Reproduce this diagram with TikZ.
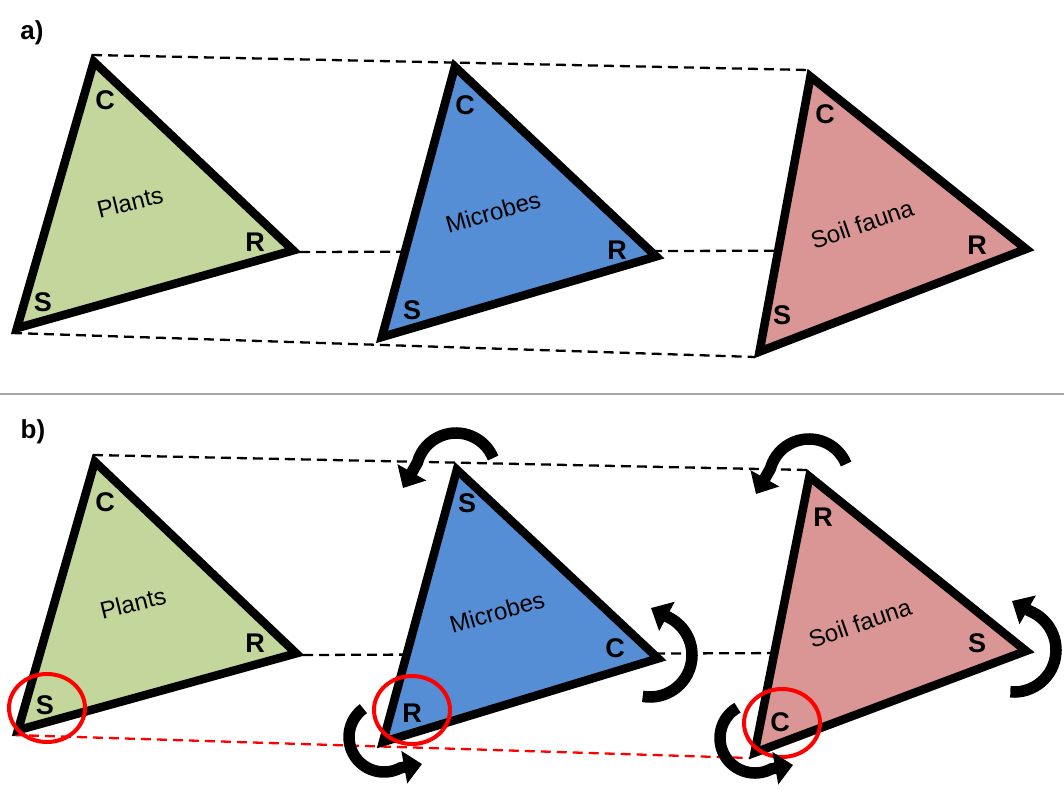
\documentclass[tikz,border=0pt]{standalone}
\usepackage{fontspec}
\setmainfont{Liberation Sans}
\usetikzlibrary{arrows.meta,calc}
\definecolor{plantg}{HTML}{C3D69B}
\definecolor{microb}{HTML}{558ED5}
\definecolor{soilp}{HTML}{D99694}
\definecolor{sepgray}{HTML}{A6A6A6}
\tikzset{
  tri/.style={draw=black,line width=8.5pt,line join=miter},
  vlab/.style={font=\bfseries\fontsize{27}{27}\selectfont,inner sep=0pt},
  tname/.style={font=\fontsize{24}{24}\selectfont,inner sep=0pt},
  panel/.style={font=\bfseries\fontsize{26}{26}\selectfont,inner sep=0pt},
  guide/.style={draw=black,line width=2.3pt,dash pattern=on 10pt off 6pt},
  redguide/.style={guide,draw=red},
  hl/.style={draw=red,line width=4pt},
  rot/.style={draw=black,line width=11.5pt,-{Triangle[length=18pt,width=32pt]}}
}
\newcommand{\tridraw}[4]{%
  \coordinate (#1m) at (barycentric cs:#1A=1,#1B=1,#1C=1);
  \draw[tri,fill=#4] ($(#1A)!7pt!(#1m)$) -- ($(#1B)!7pt!(#1m)$) -- ($(#1C)!7pt!(#1m)$) -- cycle;}
\begin{document}
\begin{tikzpicture}[x=1pt,y=-1pt]
\useasboundingbox (0,0) rectangle (1064,794);
% ---------- panel a ----------
\node[panel] (pa) at (32,33) {a)};
% vertices: A = top, B = right, C = bottom-left
\coordinate (aPA) at (92,55);   \coordinate (aPB) at (300,252);  \coordinate (aPC) at (12,333);
\coordinate (aMA) at (453,60);  \coordinate (aMB) at (663,258);  \coordinate (aMC) at (377,342);
\coordinate (aSA) at (808,70);  \coordinate (aSB) at (1033,250); \coordinate (aSC) at (755,357);
\draw[guide] (aPA) -- (aSA);
\draw[guide] (aPB) -- (aSB);
\draw[guide] (aPC) -- (aSC);
\tridraw{aP}{}{}{plantg}
\tridraw{aM}{}{}{microb}
\tridraw{aS}{}{}{soilp}
\node[vlab] (aPc) at (105,100) {C};
\node[vlab] (aPr) at (255,242) {R};
\node[vlab] (aPs) at (43,302) {S};
\node[tname,rotate=14] (aPn) at (130,202) {Plants};
\node[vlab] (aMc) at (465,105) {C};
\node[vlab] (aMr) at (617,250) {R};
\node[vlab] (aMs) at (412,310) {S};
\node[tname,rotate=16] (aMn) at (493,212) {Microbes};
\node[vlab] (aSc) at (825,114) {C};
\node[vlab] (aSr) at (977,245) {R};
\node[vlab] (aSs) at (782,315) {S};
\node[tname,rotate=19] (aSn) at (862,224) {Soil fauna};
% separator
\coordinate (sepL) at (0,394); \coordinate (sepR) at (1064,394);
\draw[sepgray,line width=2.2pt] (sepL) -- (sepR);
% ---------- panel b ----------
\node[panel] (pb) at (33,432) {b)};
\coordinate (bPA) at (93,455);  \coordinate (bPB) at (303,655);  \coordinate (bPC) at (13,735);
\coordinate (bMA) at (455,463); \coordinate (bMB) at (665,660);  \coordinate (bMC) at (378,747);
\coordinate (bSA) at (807,470); \coordinate (bSB) at (1033,652); \coordinate (bSC) at (750,758);
\draw[guide] (bPA) -- (bSA);
\draw[guide] (bPB) -- (bSB);
\draw[redguide] (bPC) -- (bSC);
\tridraw{bP}{}{}{plantg}
\tridraw{bM}{}{}{microb}
\tridraw{bS}{}{}{soilp}
\node[vlab] (bPc) at (105,502) {C};
\node[vlab] (bPr) at (255,643) {R};
\node[vlab] (bPs) at (45,705) {S};
\node[tname,rotate=14] (bPn) at (133,603) {Plants};
\node[vlab] (bMs) at (467,503) {S};
\node[vlab] (bMc) at (615,648) {C};
\node[vlab] (bMr) at (412,713) {R};
\node[tname,rotate=16] (bMn) at (497,612) {Microbes};
\node[vlab] (bSr) at (823,517) {R};
\node[vlab] (bSs) at (977,643) {S};
\node[vlab] (bSc) at (780,722) {C};
\node[tname,rotate=19] (bSn) at (860,623) {Soil fauna};
% red highlight circles
\draw[hl] (47,708) ellipse[x radius=38,y radius=34];
\draw[hl] (412,710) ellipse[x radius=38,y radius=34];
\draw[hl] (782,723) ellipse[x radius=38,y radius=34];
% rotation arrows
\draw[rot] (456,473) ++(-22:40) arc[start angle=-22,end angle=-165,radius=40] -- (403,488);
\draw[rot] (809,479) ++(-22:40) arc[start angle=-22,end angle=-165,radius=40] -- (756,494);
\draw[rot] (650,655) ++(100:42) arc[start angle=100,end angle=-62,radius=42] -- (651,608);
\draw[rot] (1014,650) ++(95:42) arc[start angle=95,end angle=-68,radius=42] -- (1012,601);
\draw[rot] (384,737) ++(-126:35) arc[start angle=-126,end angle=-298,radius=35] -- (422,764);
\draw[rot] (755,738) ++(-120:35) arc[start angle=-120,end angle=-298,radius=35] -- (793,765);
\end{tikzpicture}
\end{document}
